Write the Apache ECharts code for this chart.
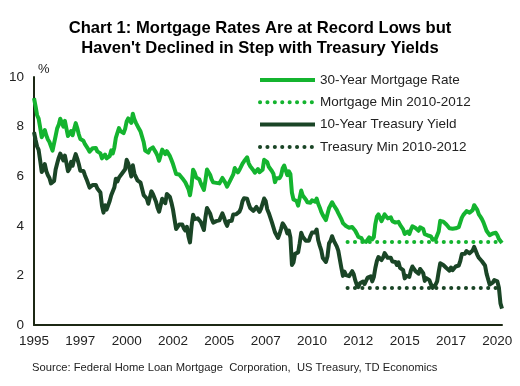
<!DOCTYPE html>
<html>
<head>
<meta charset="utf-8">
<script src="https://cdn.jsdelivr.net/npm/echarts@6/dist/echarts.min.js"></script>
<style>
html,body{margin:0;padding:0;background:#fff;}
#chart{width:520px;height:386px;}
</style>
</head>
<body>
<div id="chart"></div>
<script>
// Monthly data, Jan 1995 - Apr 2020
const startYear = 1995;
const mortgageRate = [
 9.15,8.83,8.46,8.32,7.96,7.57,7.61,7.86,7.64,7.48,7.38,7.20,
 7.03,7.08,7.62,7.93,8.07,8.32,8.25,8.00,8.23,7.92,7.62,7.60,
 7.82,7.65,7.90,8.14,7.94,7.69,7.50,7.48,7.43,7.29,7.21,7.10,
 6.99,7.04,7.13,7.14,7.14,7.00,6.95,6.92,6.72,6.71,6.87,6.72,
 6.79,6.81,7.04,6.92,7.15,7.55,7.63,7.94,7.82,7.85,7.74,7.91,
 8.21,8.33,8.24,8.15,8.52,8.29,8.15,8.03,7.91,7.80,7.75,7.38,
 7.03,7.05,6.95,7.08,7.15,7.16,7.13,6.95,6.82,6.62,6.66,7.07,
 7.00,6.89,7.01,6.99,6.81,6.65,6.49,6.29,6.09,6.11,6.07,6.05,
 5.92,5.84,5.75,5.81,5.48,5.23,5.63,6.26,6.15,5.95,5.93,5.88,
 5.71,5.64,5.45,5.83,6.27,6.29,6.06,5.87,5.75,5.72,5.73,5.75,
 5.71,5.63,5.93,5.86,5.72,5.58,5.70,5.82,5.77,6.07,6.33,6.27,
 6.15,6.25,6.32,6.51,6.60,6.68,6.76,6.52,6.40,6.36,6.24,6.14,
 6.22,6.29,6.16,6.18,6.26,6.66,6.70,6.57,6.38,6.38,6.21,6.10,
 5.76,5.92,5.97,5.92,6.04,6.32,6.43,6.48,6.04,6.20,6.09,5.33,
 5.06,5.13,5.00,4.81,4.86,5.42,5.22,5.19,5.06,4.95,4.88,4.93,
 5.03,4.99,4.97,5.10,4.89,4.74,4.56,4.43,4.35,4.23,4.30,4.71,
 4.76,4.95,4.84,4.84,4.64,4.51,4.55,4.27,4.11,4.07,3.99,3.96,
 3.92,3.89,3.95,3.91,3.80,3.68,3.55,3.60,3.50,3.38,3.35,3.35,
 3.41,3.53,3.57,3.45,3.54,4.07,4.37,4.46,4.49,4.19,4.26,4.46,
 4.43,4.30,4.34,4.34,4.19,4.16,4.13,4.12,4.16,4.04,4.00,3.86,
 3.67,3.71,3.77,3.67,3.84,3.98,4.05,3.91,3.89,3.80,3.94,3.96,
 3.87,3.66,3.69,3.61,3.60,3.57,3.44,3.44,3.46,3.47,3.77,4.20,
 4.15,4.17,4.20,4.05,4.01,3.90,3.97,3.88,3.81,3.90,3.92,3.95,
 4.03,4.33,4.44,4.47,4.59,4.57,4.53,4.55,4.63,4.83,4.87,4.64,
 4.46,4.37,4.27,4.14,4.07,3.80,3.77,3.62,3.61,3.69,3.70,3.72,
 3.62,3.47,3.45,3.31
];
const treasuryYield = [
 7.78,7.47,7.20,7.06,6.63,6.17,6.28,6.49,6.20,6.04,5.93,5.71,
 5.65,5.81,6.27,6.51,6.74,6.91,6.87,6.64,6.83,6.53,6.20,6.30,
 6.58,6.42,6.69,6.89,6.71,6.49,6.22,6.30,6.21,6.03,5.88,5.81,
 5.54,5.57,5.65,5.64,5.65,5.50,5.46,5.34,4.81,4.53,4.83,4.65,
 4.72,5.00,5.23,5.18,5.54,5.90,5.79,5.94,5.92,6.11,6.03,6.28,
 6.66,6.52,6.26,5.99,6.44,6.10,6.05,5.83,5.80,5.74,5.72,5.24,
 5.16,5.10,4.89,5.14,5.39,5.28,5.24,4.97,4.73,4.57,4.65,5.09,
 5.04,4.91,5.28,5.21,5.16,4.93,4.65,4.26,3.87,3.94,4.05,4.03,
 4.05,3.90,3.81,3.96,3.57,3.33,3.98,4.45,4.27,4.29,4.30,4.27,
 4.15,4.08,3.83,4.35,4.72,4.73,4.50,4.28,4.13,4.10,4.19,4.23,
 4.22,4.17,4.50,4.34,4.14,4.00,4.18,4.26,4.20,4.46,4.54,4.47,
 4.42,4.57,4.72,4.99,5.11,5.11,5.09,4.88,4.72,4.73,4.60,4.56,
 4.76,4.72,4.56,4.69,4.75,5.10,5.00,4.67,4.52,4.53,4.15,4.10,
 3.74,3.74,3.51,3.68,3.88,4.10,4.01,3.89,3.69,3.81,3.53,2.42,
 2.52,2.87,2.82,2.93,3.29,3.72,3.56,3.59,3.40,3.39,3.40,3.59,
 3.73,3.69,3.73,3.85,3.42,3.20,3.01,2.70,2.65,2.54,2.76,3.29,
 3.39,3.58,3.41,3.46,3.17,3.00,3.00,2.30,1.98,2.15,2.01,1.98,
 1.97,1.97,2.17,2.05,1.80,1.62,1.53,1.68,1.72,1.75,1.65,1.72,
 1.91,1.98,1.96,1.76,1.93,2.30,2.58,2.74,2.81,2.62,2.72,2.90,
 2.86,2.71,2.72,2.71,2.56,2.60,2.54,2.42,2.53,2.30,2.33,2.21,
 1.88,1.98,2.04,1.94,2.20,2.36,2.32,2.17,2.17,2.07,2.26,2.24,
 2.09,1.78,1.89,1.81,1.81,1.64,1.50,1.56,1.63,1.76,2.14,2.49,
 2.43,2.42,2.48,2.30,2.30,2.19,2.32,2.21,2.20,2.36,2.35,2.40,
 2.58,2.86,2.84,2.87,2.98,2.91,2.89,2.89,3.00,3.15,3.12,2.83,
 2.71,2.68,2.57,2.53,2.40,2.07,2.06,1.63,1.70,1.71,1.81,1.86,
 1.76,1.50,0.87,0.66
];
const mortgageMin = 3.35;
const treasuryMin = 1.49;
const minLineStart = '2011-12';
const yTicks = [0, 2, 4, 6, 8, 10];
const labelEvery = 30; // months between x-axis labels

const months = mortgageRate.map((_, i) => {
  const y = startYear + Math.floor(i / 12);
  const m = (i % 12) + 1;
  return y + '-' + (m < 10 ? '0' + m : m);
});
const startIdx = months.indexOf(minLineStart);
const mortgageMinLine = months.map((_, i) => i >= startIdx ? mortgageMin : null);
const treasuryMinLine = months.map((_, i) => i >= startIdx ? treasuryMin : null);

const cLight = '#14b42f';
const cDark = '#1a4526';
const cAxis = '#1c2814';
const font = '"Liberation Sans", Arial, sans-serif';

const chart = echarts.init(document.getElementById('chart'));
chart.setOption({
  animation: false,
  backgroundColor: '#fff',
  title: {
    text: "Chart 1: Mortgage Rates Are at Record Lows but\nHaven't Declined in Step with Treasury Yields",
    left: 'center',
    top: 13,
    textStyle: {fontFamily: font, fontSize: 16.6, fontWeight: 'bold', color: '#000', lineHeight: 20.5}
  },
  legend: {
    orient: 'vertical',
    left: 253,
    top: 68,
    itemWidth: 55,
    itemHeight: 14,
    itemGap: 8.3,
    itemStyle: {opacity: 0},
    lineStyle: {width: 4},
    textStyle: {fontFamily: font, fontSize: 13.5, color: '#222'},
    data: ['30-Year Mortgage Rate', 'Mortgage Min 2010-2012', '10-Year Treasury Yield', 'Treasury Min 2010-2012']
  },
  grid: {left: 34, right: 18, top: 77, bottom: 61, containLabel: false},
  xAxis: {
    type: 'category',
    data: months,
    boundaryGap: false,
    axisLine: {lineStyle: {color: cAxis, width: 2}},
    axisTick: {show: false},
    splitLine: {show: false},
    axisLabel: {
      interval: (i) => i % labelEvery === 0,
      formatter: (v) => v.slice(0, 4),
      fontFamily: font, fontSize: 13.5, color: '#222', margin: 9
    }
  },
  yAxis: {
    type: 'value',
    min: yTicks[0],
    max: yTicks[yTicks.length - 1],
    interval: 2,
    axisLine: {show: true, lineStyle: {color: cAxis, width: 2}},
    axisTick: {show: false},
    splitLine: {show: false},
    axisLabel: {fontFamily: font, fontSize: 13.5, color: '#222', margin: 10}
  },
  graphic: [
    {type: 'text', left: 38, top: 63, style: {text: '%', font: '13px ' + font, fill: '#222'}},
    {type: 'text', left: 32, top: 362, style: {text: 'Source: Federal Home Loan Mortgage  Corporation,  US Treasury, TD Economics', font: '11.2px ' + font, fill: '#222'}}
  ],
  series: [
    {
      name: '30-Year Mortgage Rate', type: 'line', data: mortgageRate,
      showSymbol: false, symbol: 'none',
      lineStyle: {color: cLight, width: 4, join: 'round'}, itemStyle: {color: cLight}
    },
    {
      name: '10-Year Treasury Yield', type: 'line', data: treasuryYield,
      showSymbol: false, symbol: 'none',
      lineStyle: {color: cDark, width: 4, join: 'round'}, itemStyle: {color: cDark}
    },
    {
      name: 'Mortgage Min 2010-2012', type: 'line', data: mortgageMinLine,
      showSymbol: false, symbol: 'none',
      lineStyle: {color: cLight, width: 4, type: [0.1, 7.3], cap: 'round'}, itemStyle: {color: cLight}
    },
    {
      name: 'Treasury Min 2010-2012', type: 'line', data: treasuryMinLine,
      showSymbol: false, symbol: 'none',
      lineStyle: {color: cDark, width: 4, type: [0.1, 7.3], cap: 'round'}, itemStyle: {color: cDark}
    }
  ]
});
</script>
</body>
</html>
